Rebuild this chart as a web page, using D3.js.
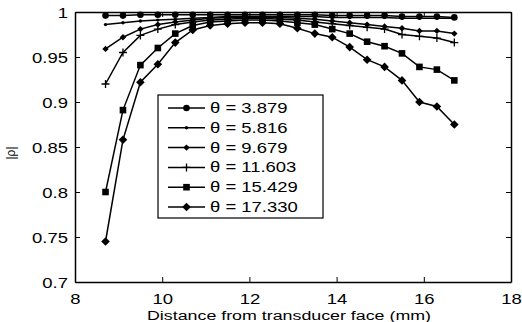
<!DOCTYPE html>
<html>
<head>
<meta charset="utf-8">
<script src="https://cdn.jsdelivr.net/npm/d3@7"></script>
<style>
  html, body { margin: 0; padding: 0; background: #fff; }
  svg { display: block; }
  text { font-family: "Liberation Sans", Arial, Helvetica, sans-serif; fill: #000; }
</style>
</head>
<body>
<svg id="chart" width="522" height="322"></svg>
<script>
// Distance from the transducer face (mm) at each measurement
const distance = [8.7, 9.1, 9.5, 9.9, 10.3, 10.7, 11.1, 11.5, 11.9, 12.3, 12.7,
                  13.1, 13.5, 13.9, 14.3, 14.7, 15.1, 15.5, 15.9, 16.3, 16.7];

// |rho| for each incidence angle theta
const rho3879  = [0.996, 0.996, 0.997, 0.997, 0.997, 0.997, 0.997, 0.997, 0.997, 0.997, 0.997,
                  0.997, 0.997, 0.996, 0.996, 0.996, 0.996, 0.995, 0.995, 0.995, 0.994];
const rho5816  = [0.986, 0.988, 0.990, 0.991, 0.992, 0.993, 0.994, 0.995, 0.995, 0.995, 0.995,
                  0.995, 0.995, 0.994, 0.994, 0.994, 0.994, 0.993, 0.993, 0.993, 0.993];
const rho9679  = [0.959, 0.972, 0.981, 0.986, 0.989, 0.991, 0.993, 0.994, 0.994, 0.994, 0.994,
                  0.993, 0.992, 0.990, 0.988, 0.986, 0.984, 0.982, 0.979, 0.979, 0.976];
const rho11603 = [0.920, 0.955, 0.974, 0.981, 0.986, 0.989, 0.991, 0.992, 0.993, 0.993, 0.992,
                  0.991, 0.989, 0.987, 0.985, 0.983, 0.981, 0.975, 0.973, 0.971, 0.966];
const rho15429 = [0.800, 0.891, 0.941, 0.960, 0.976, 0.985, 0.989, 0.990, 0.991, 0.991, 0.990,
                  0.988, 0.986, 0.981, 0.976, 0.967, 0.962, 0.954, 0.939, 0.936, 0.924];
const rho17330 = [0.745, 0.858, 0.922, 0.942, 0.966, 0.980, 0.985, 0.987, 0.988, 0.988, 0.987,
                  0.982, 0.976, 0.972, 0.961, 0.947, 0.939, 0.924, 0.900, 0.895, 0.875];

const seriesLabels = ["\u03b8 = 3.879", "\u03b8 = 5.816", "\u03b8 = 9.679",
                      "\u03b8 = 11.603", "\u03b8 = 15.429", "\u03b8 = 17.330"];
const seriesMarkers = ["circle", "dot", "smallDiamond", "plus", "square", "diamond"];
const seriesValues = [rho3879, rho5816, rho9679, rho11603, rho15429, rho17330];

const xTicks = [8, 10, 12, 14, 16, 18];
const yTicks = [0.7, 0.75, 0.8, 0.85, 0.9, 0.95, 1];

const series = seriesLabels.map((label, k) => ({
  label, marker: seriesMarkers[k],
  points: distance.map((d, i) => ({ x: d, y: seriesValues[k][i] }))
}));

const svg = d3.select("#chart");
const plot = { left: 75, right: 511, top: 12, bottom: 282 };
const SX = 1.32;      // horizontal stretch of the lettering
const FS = 14;

const x = d3.scaleLinear().domain([8, 18]).range([plot.left, plot.right]);
const y = d3.scaleLinear().domain([0.7, 1]).range([plot.bottom, plot.top]);

// Axis frame with inward ticks on all four sides
const fmt = d => d === 1 ? "1" : String(d);
const axB = svg.append("g").attr("transform", `translate(0,${plot.bottom})`)
  .call(d3.axisBottom(x).tickValues(xTicks).tickFormat(d3.format("d"))
        .tickSizeInner(-5).tickSizeOuter(0).tickPadding(12));
const axL = svg.append("g").attr("transform", `translate(${plot.left},0)`)
  .call(d3.axisLeft(y).tickValues(yTicks).tickFormat(fmt)
        .tickSizeInner(-5).tickSizeOuter(0).tickPadding(7));
const axT = svg.append("g").attr("transform", `translate(0,${plot.top})`)
  .call(d3.axisTop(x).tickValues(xTicks).tickFormat("").tickSizeInner(-5).tickSizeOuter(0));
const axR = svg.append("g").attr("transform", `translate(${plot.right},0)`)
  .call(d3.axisRight(y).tickValues(yTicks).tickFormat("").tickSizeInner(-5).tickSizeOuter(0));

[axB, axL, axT, axR].forEach(g => {
  g.select(".domain").attr("stroke", "#000").attr("stroke-width", 1.5);
  g.selectAll(".tick line").attr("stroke", "#000").attr("stroke-width", 1);
  g.selectAll(".tick text").attr("font-size", FS).attr("font-family", null);
});
axB.selectAll(".tick text").attr("transform", `scale(${SX},1)`);
axL.selectAll(".tick text")
  .attr("x", -7 / SX).attr("dy", "0.36em")
  .attr("transform", `scale(${SX},1)`);

// Axis titles
svg.append("g").attr("transform", `translate(${(plot.left + plot.right) / 2 - 4},320) scale(${SX},1)`)
  .append("text").attr("text-anchor", "middle").attr("font-size", 13.5)
  .text("Distance from transducer face (mm)");
svg.append("g").attr("transform", `translate(15,${(plot.top + plot.bottom) / 2 + 6}) rotate(-90)`)
  .append("text").attr("text-anchor", "middle").attr("font-size", 12)
  .text("|\u03c1|");

// Marker shapes
function drawMarker(sel, kind) {
  if (kind === "circle") {
    sel.append("circle").attr("r", 3.3).attr("fill", "#000");
  } else if (kind === "dot") {
    sel.append("circle").attr("r", 1.7).attr("fill", "#000");
  } else if (kind === "smallDiamond") {
    sel.append("path").attr("d", "M0,-3.2L3.2,0L0,3.2L-3.2,0Z").attr("fill", "#000");
  } else if (kind === "plus") {
    sel.append("path").attr("d", "M-4,0H4M0,-4V4").attr("stroke", "#000").attr("stroke-width", 1.3);
  } else if (kind === "square") {
    sel.append("rect").attr("x", -3.3).attr("y", -3.3).attr("width", 6.6).attr("height", 6.6).attr("fill", "#000");
  } else if (kind === "diamond") {
    sel.append("path").attr("d", "M0,-4.3L4.3,0L0,4.3L-4.3,0Z").attr("fill", "#000");
  }
}

const line = d3.line().x(d => x(d.x)).y(d => y(d.y));
const chart = svg.append("g");
series.forEach(s => {
  const g = chart.append("g");
  g.append("path").datum(s.points).attr("d", line)
    .attr("fill", "none").attr("stroke", "#000").attr("stroke-width", 1.5);
  g.selectAll("g.m").data(s.points).join("g").attr("class", "m")
    .attr("transform", d => `translate(${x(d.x)},${y(d.y)})`)
    .each(function () { drawMarker(d3.select(this), s.marker); });
});

// Legend
const lg = { x: 158, y: 95, w: 165, h: 123, row0: 108, step: 19.8 };
const legend = svg.append("g");
legend.append("rect").attr("x", lg.x).attr("y", lg.y).attr("width", lg.w).attr("height", lg.h)
  .attr("fill", "#fff").attr("stroke", "#000").attr("stroke-width", 1.2);
series.forEach((s, k) => {
  const cy = lg.row0 + k * lg.step;
  legend.append("line").attr("x1", lg.x + 10).attr("x2", lg.x + 47).attr("y1", cy).attr("y2", cy)
    .attr("stroke", "#000").attr("stroke-width", 1.5);
  drawMarker(legend.append("g").attr("transform", `translate(${lg.x + 28.5},${cy})`), s.marker);
  legend.append("g").attr("transform", `translate(${lg.x + 52},${cy + 5}) scale(${SX},1)`)
    .append("text").attr("font-size", FS).text(s.label);
});
</script>
</body>
</html>
